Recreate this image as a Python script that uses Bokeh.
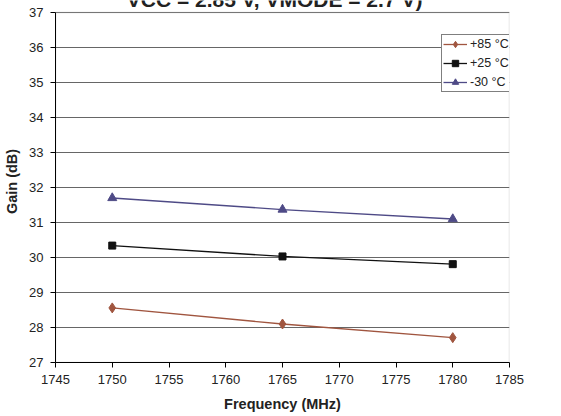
from bokeh.plotting import figure
from bokeh.models import Range1d, Label, Legend, LegendItem, FixedTicker, BoxAnnotation
from bokeh.embed import file_html
from bokeh.resources import INLINE

freq = [1750, 1765, 1780]
gain_p85 = [28.56, 28.10, 27.71]
gain_p25 = [30.34, 30.03, 29.81]
gain_m30 = [31.70, 31.37, 31.10]
labels = ["+85 °C", "+25 °C", "-30 °C"]
colors = ["#A0553F", "#111111", "#4E4A86"]
x_ticks = list(range(1745, 1786, 5))
y_ticks = list(range(27, 38))
title_text = "VCC = 2.85 V, VMODE = 2.7 V)"

FONT = "Liberation Sans"
X0, X1, Y0, Y1 = 1745, 1785, 27, 37

p = figure(width=561, height=416, output_backend="svg", toolbar_location=None,
           x_range=Range1d(X0, X1), y_range=Range1d(Y0, Y1 + 12 / 35),
           min_border_left=55, min_border_right=52, min_border_top=0, min_border_bottom=54,
           styles={"position": "absolute", "top": "0px", "left": "0px"})
p.background_fill_color = "white"
p.border_fill_color = "white"
p.outline_line_color = None

p.xaxis.ticker = FixedTicker(ticks=x_ticks)
p.yaxis.ticker = FixedTicker(ticks=y_ticks)
p.yaxis.bounds = (Y0, Y1)
p.xgrid.visible = False
p.ygrid.grid_line_color = "#666666"
p.ygrid.grid_line_width = 1
p.ygrid.ticker = FixedTicker(ticks=y_ticks)

# plot-area border (top/right grey as in the reference)
p.add_layout(BoxAnnotation(left=X0, right=X1, bottom=Y0, top=Y1, fill_color=None,
                           line_color="#9a9a9a", line_width=1.5, level="underlay"))

for ax in (p.xaxis[0], p.yaxis[0]):
    ax.axis_line_color = "black"
    ax.major_tick_line_color = "black"
    ax.minor_tick_line_color = None
    ax.major_tick_in = 0
    ax.major_tick_out = 5
    ax.major_label_text_font = FONT
    ax.major_label_text_font_size = "13px"
    ax.major_label_text_color = "#222222"
    ax.axis_label_text_font = FONT
    ax.axis_label_text_font_size = "14.5px"
    ax.axis_label_text_font_style = "bold"
    ax.axis_label_text_color = "#222222"

p.xaxis.axis_label = "Frequency (MHz)"
p.yaxis.axis_label = "Gain (dB)"
p.xaxis.major_label_standoff = 7
p.yaxis.major_label_standoff = 7
p.xaxis.axis_label_standoff = 9
p.yaxis.axis_label_standoff = 6

r1l = p.line(freq, gain_p85, line_color=colors[0], line_width=1.3)
r1m = p.scatter(freq, gain_p85, marker="diamond", size=10, fill_color=colors[0], line_color=colors[0])
r2l = p.line(freq, gain_p25, line_color=colors[1], line_width=1.3)
r2m = p.scatter(freq, gain_p25, marker="square", size=7, fill_color=colors[1], line_color=colors[1])
r3l = p.line(freq, gain_m30, line_color=colors[2], line_width=1.3)
r3m = p.scatter(freq, gain_m30, marker="triangle", size=9, fill_color=colors[2], line_color=colors[2])

legend = Legend(items=[LegendItem(label=labels[0], renderers=[r1l, r1m]),
                       LegendItem(label=labels[1], renderers=[r2l, r2m]),
                       LegendItem(label=labels[2], renderers=[r3l, r3m])],
                location=(386, 270))
legend.label_text_font = FONT
legend.label_text_font_size = "12.5px"
legend.label_text_color = "#222222"
legend.glyph_width = 24
legend.glyph_height = 16
legend.label_height = 16
legend.label_standoff = 3
legend.spacing = 3
legend.padding = 1
legend.margin = 0
legend.border_line_color = "black"
legend.border_line_width = 1
legend.background_fill_color = "white"
legend.background_fill_alpha = 1
p.add_layout(legend)

title = Label(x=1764.3, y=37.37, text=title_text, text_font=FONT, text_font_size="21px",
              text_font_style="bold", text_align="center", text_baseline="alphabetic",
              text_color="#222222")
p.add_layout(title)

open("out.html", "w").write(file_html(p, INLINE))
